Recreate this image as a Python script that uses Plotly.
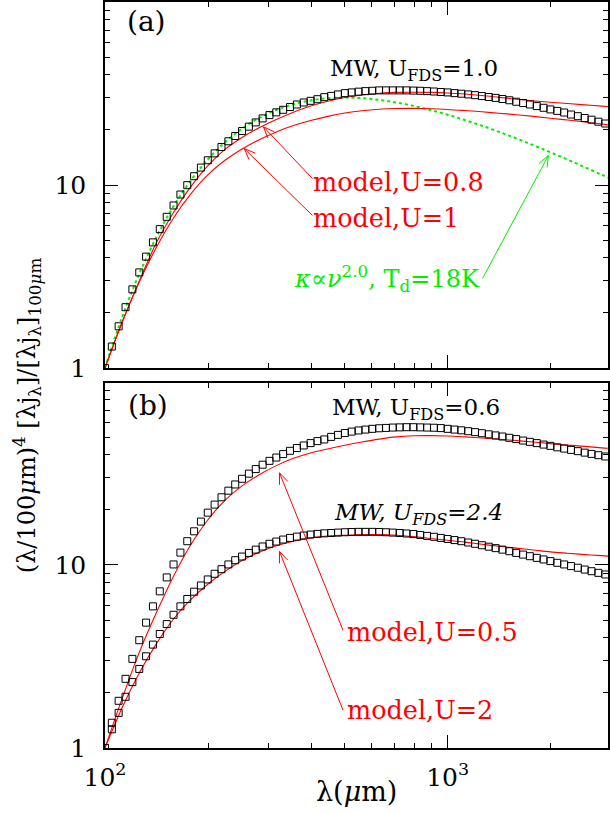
import math
import plotly.graph_objects as go

# ---------------- data ----------------
# wavelengths of the MW/FDS square markers (micron)
lam_sq = [100, 104.7, 109.6, 114.8, 120.2, 125.9, 131.8, 138.0, 144.5, 151.4,
          158.5, 166.0, 173.8, 182.0, 190.5, 199.5, 208.9, 218.8, 229.1, 239.9,
          251.2, 263.0, 275.4, 288.4, 302.0, 316.2, 331.1, 346.7, 363.1, 380.2,
          398.1, 416.9, 436.5, 457.1, 478.6, 501.2, 524.8, 549.5, 575.4, 602.6,
          631.0, 660.7, 691.8, 724.4, 758.6, 794.3, 831.8, 871.0, 912.0, 955.0,
          1000, 1047, 1096, 1148, 1202, 1259, 1318, 1380, 1445, 1514,
          1585, 1660, 1738, 1820, 1905, 1995, 2089, 2188, 2291, 2399,
          2512, 2630, 2754, 2884]

# panel (a): MW, U_FDS = 1.0
mw_u10 = [1.00, 1.31, 1.69, 2.15, 2.69, 3.33, 4.06, 4.86, 5.74, 6.70,
          7.73, 8.87, 9.98, 11.17, 12.45, 13.65, 14.89, 16.14, 17.34, 18.53,
          19.72, 20.84, 21.98, 23.12, 24.10, 24.95, 25.76, 26.67, 27.54, 28.25,
          28.84, 29.44, 30.20, 30.69, 31.26, 31.77, 32.06, 32.36, 32.58, 32.73,
          32.89, 32.89, 32.89, 32.89, 32.89, 32.81, 32.73, 32.58, 32.43, 32.21,
          32.06, 31.77, 31.55, 31.26, 30.97, 30.62, 30.27, 29.92, 29.51, 29.04,
          28.51, 28.05, 27.54, 26.98, 26.42, 25.88, 25.41, 24.89, 24.27, 23.77,
          23.23, 22.75, 22.18, 21.68]

# panel (b): MW, U_FDS = 0.6
mw_u06 = [1.00, 1.374, 1.811, 2.388, 3.069, 3.882, 4.842, 5.943, 7.178, 8.551,
          10.07, 11.69, 13.49, 15.28, 17.26, 19.32, 21.38, 23.44, 25.47, 27.54,
          29.58, 31.55, 33.42, 35.32, 37.07, 38.64, 40.36, 42.07, 43.55, 44.98,
          46.34, 47.53, 48.53, 50.12, 51.40, 52.60, 53.58, 54.33, 54.95, 55.46,
          55.85, 56.10, 56.36, 56.49, 56.62, 56.62, 56.49, 56.36, 56.23, 55.98,
          55.46, 54.95, 54.45, 53.83, 53.21, 52.48, 51.76, 51.05, 50.35, 49.55,
          48.75, 47.86, 47.10, 46.34, 45.50, 44.77, 43.95, 43.25, 42.56, 41.88,
          41.11, 40.46, 39.81, 39.17]

# panel (b): MW, U_FDS = 2.4
mw_u24 = [1.00, 1.265, 1.556, 1.905, 2.291, 2.704, 3.170, 3.673, 4.198, 4.753,
          5.346, 5.943, 6.516, 7.145, 7.727, 8.337, 8.954, 9.484, 10.07, 10.62,
          11.12, 11.64, 12.13, 12.62, 13.06, 13.43, 13.77, 14.06, 14.29, 14.49,
          14.66, 14.79, 14.89, 14.96, 15.03, 15.10, 15.14, 15.17, 15.17, 15.17,
          15.14, 15.10, 15.03, 14.96, 14.86, 14.76, 14.59, 14.42, 14.26, 14.06,
          13.87, 13.68, 13.49, 13.27, 13.06, 12.82, 12.59, 12.36, 12.13, 11.89,
          11.64, 11.40, 11.17, 10.94, 10.72, 10.50, 10.28, 10.07, 9.863, 9.661,
          9.441, 9.247, 9.057, 8.872]

# wavelengths of the model / modified-blackbody curves (micron)
lam_mod = [100, 112.2, 125.9, 141.3, 158.5, 177.8, 199.5, 223.9, 251.2, 281.8,
           316.2, 354.8, 398.1, 446.7, 501.2, 562.3, 631.0, 707.9, 794.3, 891.3,
           1000, 1122, 1259, 1413, 1585, 1778, 1995, 2239, 2512, 2818, 3020]

model_a_u08 = [1.00, 1.778, 2.985, 4.842, 7.079, 9.772, 12.74, 15.67, 18.20, 20.56,
               22.80, 25.00, 27.04, 28.71, 30.06, 31.05, 31.70, 32.06, 32.14, 32.06,
               31.84, 31.41, 30.83, 30.13, 29.44, 28.84, 28.31, 27.86, 27.42, 26.98, 26.73]
model_a_u1 = [1.00, 1.778, 2.951, 4.571, 6.607, 8.913, 11.35, 13.65, 15.74, 17.66,
              19.50, 21.13, 22.49, 23.71, 24.72, 25.47, 25.94, 26.18, 26.24, 26.12,
              25.88, 25.53, 25.12, 24.66, 24.21, 23.71, 23.17, 22.65, 22.08, 21.53, 21.18]
mbb_18k = [1.00, 1.895, 3.273, 5.20, 7.66, 10.57, 13.80, 17.12, 20.32, 23.24,
           25.70, 27.64, 28.99, 29.79, 30.03, 29.81, 29.19, 28.24, 27.06, 25.69,
           24.21, 22.65, 21.08, 19.51, 17.98, 16.51, 15.10, 13.77, 12.53, 11.37, 10.72]
model_b_u05 = [1.00, 1.86, 3.33, 5.50, 8.69, 12.85, 17.62, 22.54, 27.04, 31.12,
               34.91, 38.28, 40.93, 43.05, 45.08, 46.99, 48.75, 50.12, 50.82, 50.93,
               50.70, 50.12, 49.43, 48.64, 47.86, 46.99, 46.03, 45.19, 44.46, 43.65, 43.25]
model_b_u2 = [1.00, 1.66, 2.57, 3.72, 5.07, 6.46, 7.85, 9.23, 10.59, 11.75,
              12.74, 13.49, 14.06, 14.39, 14.55, 14.66, 14.66, 14.55, 14.29, 13.96,
              13.65, 13.34, 12.97, 12.65, 12.36, 12.08, 11.80, 11.59, 11.40, 11.25, 11.14]

x_tickvals = [100, 1000]
x_ticktext = ["10<sup>2</sup>", "10<sup>3</sup>"]
x_minor = [200, 300, 400, 500, 600, 700, 800, 900, 2000, 3000]
y_tickvals = [1, 10]
y_ticktext = ["1", "10"]
y_minor = [2, 3, 4, 5, 6, 7, 8, 9, 20, 30, 40, 50, 60, 70, 80, 90]

# ---------------- layout geometry ----------------
W, H = 610, 813
ML, MR, MT, MB = 105, 0, 0, 65
PW = W - ML - MR
PH = H - MT - MB
PX_DEX_X = 344.0
PX_DEX_Y = 183.5
A_TOP, A_BOT = 0, 367      # pixel rows of panel (a)
B_TOP, B_BOT = 382, 748    # pixel rows of panel (b)

FONT = "DejaVu Serif"
RED = "#ff0000"
GREEN = "#00ee00"


def px(xp):
    return (xp - ML) / PW


def py(yp):
    return (H - MB - yp) / PH


fig = go.Figure()

sq_style = dict(symbol="square-open", size=7, color="black", line=dict(width=1, color="black"))

# panel (a)
fig.add_trace(go.Scatter(x=lam_mod, y=mbb_18k, mode="lines", xaxis="x", yaxis="y",
                         line=dict(color=GREEN, width=2, dash="dot", shape="spline")))
fig.add_trace(go.Scatter(x=lam_mod, y=model_a_u08, mode="lines", xaxis="x", yaxis="y",
                         line=dict(color=RED, width=1.1, shape="spline")))
fig.add_trace(go.Scatter(x=lam_mod, y=model_a_u1, mode="lines", xaxis="x", yaxis="y",
                         line=dict(color=RED, width=1.1, shape="spline")))
fig.add_trace(go.Scatter(x=lam_sq, y=mw_u10, mode="markers", xaxis="x", yaxis="y", marker=sq_style))

# panel (b)
fig.add_trace(go.Scatter(x=lam_mod, y=model_b_u05, mode="lines", xaxis="x2", yaxis="y2",
                         line=dict(color=RED, width=1.1, shape="spline")))
fig.add_trace(go.Scatter(x=lam_mod, y=model_b_u2, mode="lines", xaxis="x2", yaxis="y2",
                         line=dict(color=RED, width=1.1, shape="spline")))
fig.add_trace(go.Scatter(x=lam_sq, y=mw_u06, mode="markers", xaxis="x2", yaxis="y2", marker=sq_style))
fig.add_trace(go.Scatter(x=lam_sq, y=mw_u24, mode="markers", xaxis="x2", yaxis="y2", marker=sq_style))

xr = [2, 2 + PW / PX_DEX_X]
common_x = dict(type="log", range=xr, showline=True, linecolor="black", linewidth=1.5,
                mirror="ticks", ticks="inside", ticklen=13, tickwidth=1, tickcolor="black",
                tickvals=x_tickvals, ticktext=x_ticktext, showgrid=False, zeroline=False,
                minor=dict(tickvals=x_minor, ticks="inside", ticklen=5, tickwidth=1,
                           tickcolor="black", showgrid=False),
                tickfont=dict(family=FONT, size=25, color="black"))
common_y = dict(type="log", showline=True, linecolor="black", linewidth=1.5,
                mirror="ticks", ticks="inside", ticklen=13, tickwidth=1, tickcolor="black",
                tickvals=y_tickvals, ticktext=y_ticktext, showgrid=False, zeroline=False,
                minor=dict(tickvals=y_minor, ticks="inside", ticklen=5, tickwidth=1,
                           tickcolor="black", showgrid=False),
                tickfont=dict(family=FONT, size=25, color="black"), ticklabelstandoff=12)

fig.update_layout(
    width=W, height=H, margin=dict(l=ML, r=MR, t=MT, b=MB),
    paper_bgcolor="white", plot_bgcolor="white", showlegend=False,
    font=dict(family=FONT, color="black"),
    xaxis=dict(common_x, anchor="y", domain=[0, 1], showticklabels=False),
    yaxis=dict(common_y, anchor="x", domain=[py(A_BOT), py(A_TOP)],
               range=[0, (A_BOT - A_TOP) / PX_DEX_Y]),
    xaxis2=dict(common_x, anchor="y2", domain=[0, 1], showticklabels=True, ticklabelstandoff=6),
    yaxis2=dict(common_y, anchor="x2", domain=[py(B_BOT), py(B_TOP)],
                range=[0, (B_BOT - B_TOP) / PX_DEX_Y]),
)

ann = []
shapes = []


def text(xp, ypix, s, size, color="black", anchor="left"):
    ann.append(dict(x=px(xp), y=py(ypix), xref="paper", yref="paper", text=s, showarrow=False,
                    xanchor=anchor, yanchor="middle", font=dict(family=FONT, size=size, color=color)))


def to_pix(pt, bottom):
    lam, val = pt
    return (ML + (math.log10(lam) - 2) * PX_DEX_X, bottom - math.log10(val) * PX_DEX_Y)


def seg(p0, p1, color):
    shapes.append(dict(type="line", xref="paper", yref="paper",
                       x0=px(p0[0]), y0=py(p0[1]), x1=px(p1[0]), y1=py(p1[1]),
                       line=dict(color=color, width=1)))


def arrow(bottom, tip, tail, color):
    # tip / tail in data units (lambda, y); drawn as line + open V head
    t0 = to_pix(tip, bottom)
    t1 = to_pix(tail, bottom)
    seg(t1, t0, color)
    dx, dy = t1[0] - t0[0], t1[1] - t0[1]
    n = math.hypot(dx, dy)
    ux, uy = dx / n, dy / n
    for ang in (math.radians(22), math.radians(-22)):
        rx = ux * math.cos(ang) - uy * math.sin(ang)
        ry = ux * math.sin(ang) + uy * math.cos(ang)
        seg(t0, (t0[0] + rx * 12, t0[1] + ry * 12), color)


# panel labels and captions
text(147, 20, "(a)", 28, anchor="center")
text(148, 405, "(b)", 28, anchor="center")
text(329, 68, "MW, U<sub>FDS</sub>=1.0", 23)
text(331, 408, "MW, U<sub>FDS</sub>=0.6", 23)
text(333, 513, "<i>MW, U<sub>FDS</sub>=2.4</i>", 23)
text(312, 180, "model,U=0.8", 25.5, RED)
text(312, 217, "model,U=1", 25.5, RED)
text(293, 277, "<i>κ</i>∝<i>ν</i><sup>2.0</sup>, T<sub>d</sub>=18K", 24, GREEN)
text(346, 632, "model,U=0.5", 25.5, RED)
text(346, 710, "model,U=2", 25.5, RED)

# arrows
arrow(A_BOT, (290, 20.8), (403, 10.85), RED)
arrow(A_BOT, (255, 15.8), (403, 6.82), RED)
arrow(A_BOT, (1968, 14.5), (1265, 3.09), GREEN)
arrow(B_BOT, (323, 31.9), (495, 4.40), RED)
arrow(B_BOT, (323, 11.85), (495, 1.61), RED)

# axis titles
ann.append(dict(x=px(27), y=py(414), xref="paper", yref="paper", textangle=-90, showarrow=False,
                xanchor="center", yanchor="middle",
                text="(λ/100<i>μ</i>m)<sup>4</sup> [λj<sub>λ</sub>]/[λj<sub>λ</sub>]<sub>100<i>μ</i>m</sub>",
                font=dict(family=FONT, size=24, color="black")))
ann.append(dict(x=px(358), y=py(792), xref="paper", yref="paper", showarrow=False,
                xanchor="center", yanchor="middle", text="λ(<i>μ</i>m)",
                font=dict(family=FONT, size=27, color="black")))

fig.update_layout(annotations=ann, shapes=shapes)
fig.write_html("out.html", config={"displayModeBar": False},
               post_script="document.body.style.margin='0';document.body.style.overflow='hidden';")
